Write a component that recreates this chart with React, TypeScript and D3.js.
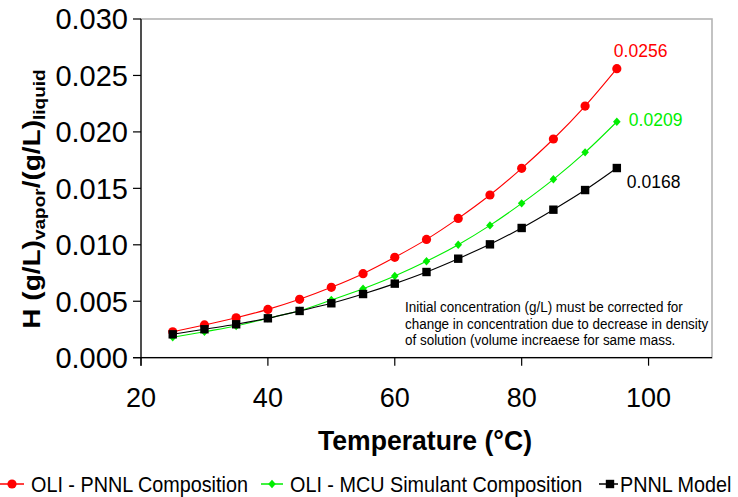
import React from "react";
import * as d3 from "d3";

const temps = [25, 30, 35, 40, 45, 50, 55, 60, 65, 70, 75, 80, 85, 90, 95];
const oliPnnl = [0.0023, 0.0029, 0.00354, 0.00428, 0.00517, 0.00623, 0.00744, 0.00889, 0.01048, 0.01234, 0.01441, 0.01677, 0.01937, 0.02229, 0.0256];
const oliMcu = [0.00181, 0.0023, 0.00281, 0.00349, 0.00416, 0.00511, 0.00611, 0.00724, 0.00854, 0.01001, 0.01172, 0.01367, 0.0158, 0.01819, 0.0209];
const pnnlModel = [0.00207, 0.00252, 0.00296, 0.00349, 0.00414, 0.00482, 0.00564, 0.00656, 0.00759, 0.00877, 0.01004, 0.01149, 0.01311, 0.01485, 0.0168];
const xTicks = [20, 40, 60, 80, 100];
const yTicks = [0, 0.005, 0.01, 0.015, 0.02, 0.025, 0.03];
const seriesNames = ["OLI - PNNL Composition", "OLI - MCU Simulant Composition", "PNNL Model"];
const endLabels = ["0.0256", "0.0209", "0.0168"];
const noteLines = [
  "Initial concentration (g/L) must be corrected for",
  "change in concentration due to decrease in density",
  "of solution (volume increaese for same mass.",
];

const FONT = "'Liberation Sans', Arial, sans-serif";

const W = 738, H = 497;
const left = 141, right = 712, top = 19, bottom = 357.7;

function T({ x, y, size, anchor = "start", fill = "#000", weight = "normal", sx = 1, children }: any) {
  return (
    <g transform={`translate(${x},${y}) scale(${sx},1)`}>
      <text fontFamily={FONT} fontSize={size} fontWeight={weight} textAnchor={anchor} fill={fill}>
        {children}
      </text>
    </g>
  );
}

function Marker({ kind, x, y, color }: any) {
  if (kind === "circle") return <circle cx={x} cy={y} r={4.6} fill={color} />;
  if (kind === "diamond")
    return <path d={`M${x},${y - 4.2}L${x + 3.8},${y}L${x},${y + 4.2}L${x - 3.8},${y}Z`} fill={color} />;
  return <rect x={x - 4.2} y={y - 4.2} width={8.4} height={8.4} fill={color} />;
}

export default function App() {
  const x = d3.scaleLinear().domain([20, 110]).range([left, right]);
  const y = d3.scaleLinear().domain([0, 0.03]).range([bottom, top]);

  const series = [
    { name: seriesNames[0], values: oliPnnl, color: "#ff0000", kind: "circle", label: endLabels[0] },
    { name: seriesNames[1], values: oliMcu, color: "#00ee00", kind: "diamond", label: endLabels[1] },
    { name: seriesNames[2], values: pnnlModel, color: "#000000", kind: "square", label: endLabels[2] },
  ];

  const line = d3
    .line<number>()
    .x((_, i) => x(temps[i]))
    .y((v) => y(v))
    .curve(d3.curveCatmullRom.alpha(0.5));

  const labelPos = [
    { dx: -3, dy: -12 },
    { dx: 12, dy: 4 },
    { dx: 10, dy: 20 },
  ];

  const legendItems = [
    { x0: 0, x1: 24, mx: 12, tx: 31 },
    { x0: 261, x1: 283, mx: 272, tx: 290 },
    { x0: 599, x1: 618, mx: 610, tx: 620 },
  ];
  const legendY = 484;

  return (
    <svg width={W} height={H} style={{ position: "absolute", left: 0, top: 0, background: "#fff" }}>
      <rect x={0} y={0} width={W} height={H} fill="#fff" />
      {/* frame */}
      <rect x={left} y={top} width={right - left} height={bottom - top} fill="none" stroke="#b4b4b4" strokeWidth={1.6} />
      {/* axes */}
      <line x1={left} x2={left} y1={top} y2={bottom + 8} stroke="#000" strokeWidth={1.2} />
      <line x1={left - 8} x2={right} y1={bottom} y2={bottom} stroke="#000" strokeWidth={1.2} />
      {yTicks.map((t) => (
        <g key={"y" + t}>
          <line x1={left - 8} x2={left} y1={y(t)} y2={y(t)} stroke="#000" strokeWidth={1.2} />
          <T x={128} y={y(t) + 10.4} size={29} anchor="end">
            {d3.format(".3f")(t)}
          </T>
        </g>
      ))}
      {xTicks.map((t) => (
        <g key={"x" + t}>
          <line x1={x(t)} x2={x(t)} y1={bottom} y2={bottom + 8} stroke="#000" strokeWidth={1.2} />
          <T x={x(t)} y={406.5} size={27} anchor="middle">
            {t}
          </T>
        </g>
      ))}
      {/* axis titles */}
      <T x={425} y={450} size={28} anchor="middle" weight="bold" sx={0.95}>
        Temperature (°C)
      </T>
      <g transform={`translate(40,199) scale(0.84,1) rotate(-90)`}>
        <text fontFamily={FONT} fontSize={28} fontWeight="bold" textAnchor="middle">
          <tspan>H (g/L)</tspan>
          <tspan fontSize={19} dy={6}>vapor</tspan>
          <tspan dy={-6}>/(g/L)</tspan>
          <tspan fontSize={19} dy={6}>liquid</tspan>
        </text>
      </g>
      {/* series */}
      {series.map((s, si) => (
        <g key={s.name}>
          <path d={line(s.values) || ""} fill="none" stroke={s.color} strokeWidth={1.1} />
          {s.values.map((v, i) => (
            <Marker key={i} kind={s.kind} x={x(temps[i])} y={y(v)} color={s.color} />
          ))}
          <T
            x={x(temps[temps.length - 1]) + labelPos[si].dx}
            y={y(s.values[s.values.length - 1]) + labelPos[si].dy}
            size={17.5}
            fill={s.color}
          >
            {s.label}
          </T>
        </g>
      ))}
      {/* note */}
      {noteLines.map((l, i) => (
        <T key={i} x={405} y={312 + i * 16.5} size={14} sx={0.96}>
          {l}
        </T>
      ))}
      {/* legend */}
      {series.map((s, i) => (
        <g key={"lg" + i}>
          <line x1={legendItems[i].x0} x2={legendItems[i].x1} y1={legendY} y2={legendY} stroke={s.color} strokeWidth={1.5} />
          <Marker kind={s.kind} x={legendItems[i].mx} y={legendY} color={s.color} />
          <T x={legendItems[i].tx} y={legendY + 8} size={22} sx={0.9}>
            {s.name}
          </T>
        </g>
      ))}
    </svg>
  );
}
